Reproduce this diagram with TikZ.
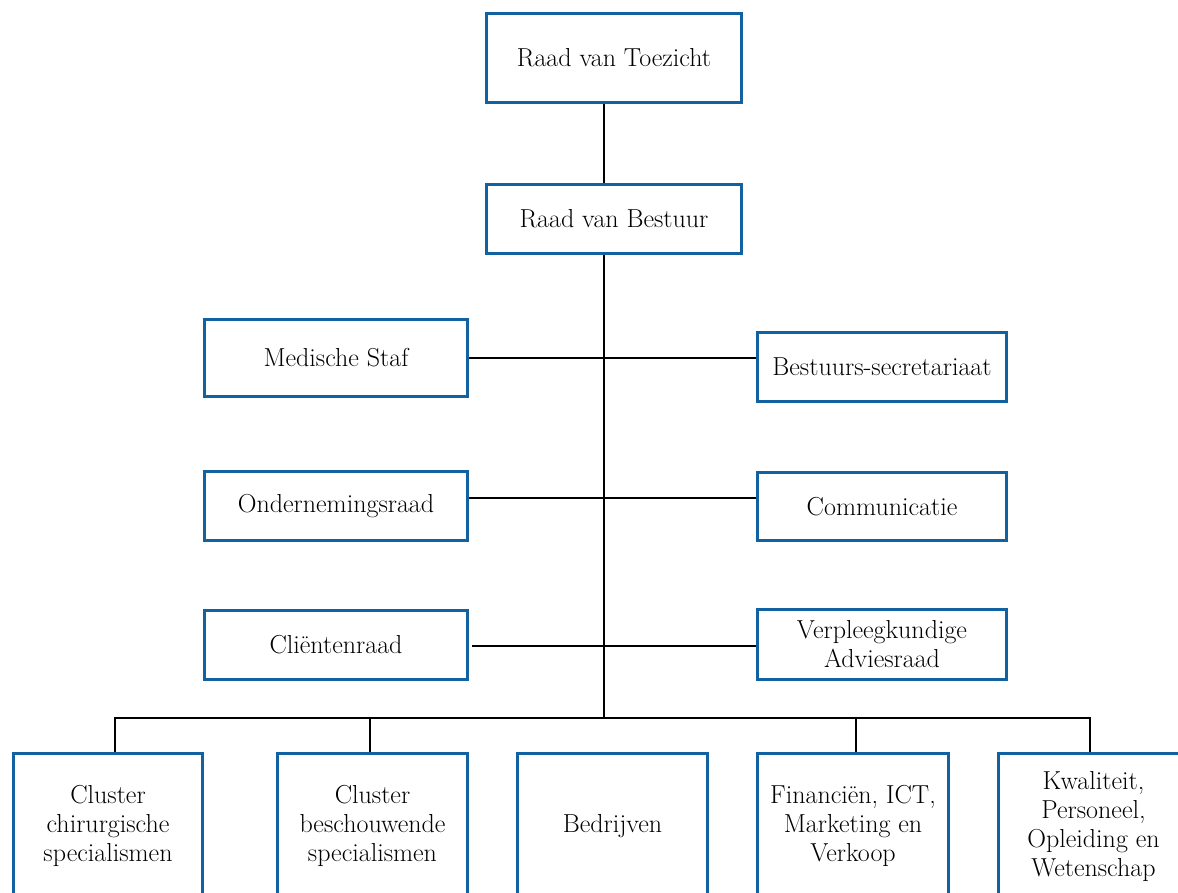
\documentclass[tikz,border=0pt]{standalone}
\usepackage{fontspec}
\definecolor{boxblue}{RGB}{18,98,162}
\tikzset{
  orgbox/.style={draw=boxblue, line width=3pt, fill=white, align=center, inner sep=2pt,
    font=\fontsize{26}{29}\selectfont},
  conn/.style={draw=black, line width=1.5pt}
}
\begin{document}
\begin{tikzpicture}[x=1pt,y=-1pt]
\useasboundingbox (0,0) rectangle (1178,892);
\clip (0,0) rectangle (1178,892);
% top
\node[orgbox, minimum width=255, minimum height=89] (rvt) at (614,58) {Raad van Toezicht};
\node[orgbox, minimum width=255, minimum height=69] (rvb) at (614,219) {Raad van Bestuur};
% advisory rows
\node[orgbox, minimum width=263, minimum height=77] (ms) at (336,358) {Medische Staf};
\node[orgbox, minimum width=249, minimum height=69] (bs) at (882,367) {Bestuurs-secretariaat};
\node[orgbox, minimum width=263, minimum height=69] (or) at (336,506) {Ondernemingsraad};
\node[orgbox, minimum width=249, minimum height=68] (com) at (882,506.5) {Communicatie};
\node[orgbox, minimum width=263, minimum height=69] (cr) at (336,645) {Cliëntenraad};
\node[orgbox, minimum width=249, minimum height=70] (va) at (882,644.5) {Verpleegkundige\\Adviesraad};
% bottom row
\node[orgbox, minimum width=189, minimum height=145] (c1) at (108,826) {Cluster\\chirurgische\\specialismen};
\node[orgbox, minimum width=190, minimum height=145] (c2) at (372.5,826) {Cluster\\beschouwende\\specialismen};
\node[orgbox, minimum width=190, minimum height=145] (bed) at (612.5,826) {Bedrijven};
\node[orgbox, minimum width=191, minimum height=145] (fin) at (853,826) {Financiën, ICT,\\Marketing en\\Verkoop};
\node[orgbox, minimum width=190, minimum height=145] (kw) at (1093.5,826) {Kwaliteit,\\Personeel,\\Opleiding en\\Wetenschap};
% helper coordinates
\coordinate (spine) at (604,0);
\coordinate (l2) at (604,498);
\coordinate (l3) at (604,646);
\coordinate (bus) at (604,718);
% connectors
\draw[conn] (rvt.south -| spine) -- (rvb.north -| spine);
\draw[conn] (rvb.south -| spine) -- (bus);
\draw[conn] (ms.east) -- (ms.east -| bs.west);
\draw[conn] (or.east |- l2) -- (com.west |- l2);
\draw[conn] ([xshift=3pt]cr.east |- l3) -- (va.west |- l3);
\draw[conn] ([xshift=7pt]c1.north) -- ([xshift=7pt]c1.north |- bus) -- ([xshift=-3.5pt]kw.north |- bus) -- ([xshift=-3.5pt]kw.north);
\draw[conn] ([xshift=-2.5pt]c2.north) -- ([xshift=-2.5pt]c2.north |- bus);
\draw[conn] ([xshift=3pt]fin.north) -- ([xshift=3pt]fin.north |- bus);
\end{tikzpicture}
\end{document}
